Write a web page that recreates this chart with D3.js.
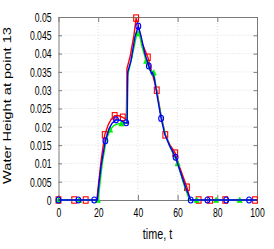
<!DOCTYPE html>
<html>
<head>
<meta charset="utf-8">
<script src="https://cdn.jsdelivr.net/npm/d3@7"></script>
<style>
  body { margin: 0; background: #fff; }
  text { font-family: "Liberation Sans", Arial, sans-serif; }
</style>
</head>
<body>
<svg id="chart" width="274" height="249"></svg>
<script>
// tick labels
const xTicks = [0, 20, 40, 60, 80, 100];
const xTickLabels = ["0", "20", "40", "60", "80", "100"];
const yTicks = [0, 0.005, 0.01, 0.015, 0.02, 0.025, 0.03, 0.035, 0.04, 0.045, 0.05];
const yTickLabels = ["0", "0.005", "0.01", "0.015", "0.02", "0.025", "0.03", "0.035", "0.04", "0.045", "0.05"];

// red series (squares)
const redTime = [0, 19.3, 20.5, 21.5, 23.3, 25, 26.5, 28.3, 30.5, 32.4, 34.2, 34.5, 36, 38, 39.1, 40, 42, 45, 47, 49.5, 51.5, 53.8, 56, 58.8, 61, 64.7, 66.3, 100];
const redHeight = [0, 0, 0.006, 0.011, 0.0178, 0.0205, 0.022, 0.023, 0.023, 0.0226, 0.022, 0.036, 0.039, 0.045, 0.0497, 0.048, 0.043, 0.039, 0.035, 0.030, 0.0235, 0.0178, 0.0152, 0.0128, 0.009, 0.0035, 0, 0];
const redMarkTime = [0, 7.9, 13.7, 23.3, 28.3, 32.4, 39.1, 45, 49.5, 53.8, 58.8, 64.7, 70.6, 76.4, 84, 99];
const redMarkHeight = [0, 0, 0, 0.0178, 0.023, 0.0226, 0.0497, 0.039, 0.030, 0.0178, 0.0128, 0.0035, 0, 0, 0, 0];

// green series (triangles)
const greenTime = [0, 20.0, 21, 22, 24, 26, 28, 30, 31.7, 34.3, 34.8, 37, 39.5, 40.5, 42, 44.2, 46, 48, 50, 52, 54, 57, 60, 63, 66, 100];
const greenHeight = [0, 0, 0.005, 0.0098, 0.0163, 0.0192, 0.0204, 0.0208, 0.0209, 0.021, 0.034, 0.039, 0.0455, 0.046, 0.042, 0.038, 0.0355, 0.0348, 0.028, 0.022, 0.0175, 0.0135, 0.010, 0.0045, 0, 0];
const greenMarkTime = [0, 10.5, 19.8, 26, 31.7, 39.5, 44.2, 48, 60, 69.6, 79.4, 91.3];
const greenMarkHeight = [0, 0, 0, 0.0192, 0.0209, 0.0455, 0.038, 0.0348, 0.010, 0, 0, 0];

// blue series (circles)
const blueTime = [0, 19.5, 20.5, 21.5, 23.6, 25.5, 27, 29, 31, 33, 34.6, 34.9, 36.5, 38.5, 40.2, 41.5, 43.5, 45.5, 46.8, 47.3, 48.2, 50, 51.7, 53.5, 56, 59, 61.5, 64, 66.6, 100];
const blueHeight = [0, 0, 0.005, 0.0095, 0.0162, 0.0195, 0.021, 0.0219, 0.0218, 0.0212, 0.021, 0.035, 0.038, 0.0445, 0.0475, 0.045, 0.040, 0.0366, 0.0345, 0.0348, 0.0335, 0.0275, 0.0223, 0.018, 0.0148, 0.0117, 0.0075, 0.0035, 0, 0];
const blueMarkTime = [0, 10, 18, 23.6, 29, 34.1, 40.2, 45.5, 51.7, 59, 66.6, 75, 84.5, 96];
const blueMarkHeight = [0, 0, 0, 0.0162, 0.0219, 0.0211, 0.0475, 0.0366, 0.0223, 0.0117, 0, 0, 0, 0];

const plotLeft = 58.5, plotRight = 257, plotTop = 17, plotBottom = 200;
const sx = 0.72; // the figure text is squeezed horizontally

const svg = d3.select("#chart");
const x = d3.scaleLinear().domain([0, 100]).range([plotLeft, plotRight]);
const y = d3.scaleLinear().domain([0, 0.05]).range([plotBottom, plotTop]);

// grid
svg.append("g").selectAll("line").data(xTicks.slice(1, -1)).enter().append("line")
  .attr("x1", d => x(d)).attr("x2", d => x(d)).attr("y1", plotTop).attr("y2", plotBottom)
  .attr("stroke", "#d4d4d4").attr("stroke-width", 0.8).attr("stroke-dasharray", "1,2");
svg.append("g").selectAll("line").data(yTicks.slice(1, -1)).enter().append("line")
  .attr("x1", plotLeft).attr("x2", plotRight).attr("y1", d => y(d)).attr("y2", d => y(d))
  .attr("stroke", "#d4d4d4").attr("stroke-width", 0.8).attr("stroke-dasharray", "1,2");

// axes, ticks pointing inwards on all four sides
const frame = "#7a7a7a";
const xAxis = svg.append("g").attr("transform", `translate(0,${plotBottom})`)
  .call(d3.axisBottom(x).tickValues(xTicks).tickFormat((d, i) => xTickLabels[i]).tickSizeInner(-5).tickSizeOuter(0).tickPadding(13));
const yAxis = svg.append("g").attr("transform", `translate(${plotLeft},0)`)
  .call(d3.axisLeft(y).tickValues(yTicks).tickFormat((d, i) => yTickLabels[i]).tickSizeInner(-3.5).tickSizeOuter(0).tickPadding(7));
svg.append("g").attr("transform", `translate(0,${plotTop})`)
  .call(d3.axisTop(x).tickValues(xTicks).tickFormat("").tickSizeInner(-5).tickSizeOuter(0));
svg.append("g").attr("transform", `translate(${plotRight},0)`)
  .call(d3.axisRight(y).tickValues(yTicks).tickFormat("").tickSizeInner(-3.5).tickSizeOuter(0));

svg.selectAll(".domain").attr("stroke", frame);
svg.selectAll(".tick line").attr("stroke", frame);
[xAxis, yAxis].forEach(a => a.selectAll("text")
  .attr("fill", "#000")
  .attr("font-size", "12px")
  .attr("font-family", "'Liberation Sans', Arial, sans-serif")
  .attr("transform", `scale(${sx},1)`));
yAxis.selectAll("text").attr("x", -7 / sx).attr("dy", "0.36em");
xAxis.selectAll("text").attr("dy", "0.36em");

// series
const series = [
  { time: redTime, height: redHeight, mt: redMarkTime, mh: redMarkHeight, color: "#ff0000", shape: "square" },
  { time: greenTime, height: greenHeight, mt: greenMarkTime, mh: greenMarkHeight, color: "#00ee00", shape: "triangle" },
  { time: blueTime, height: blueHeight, mt: blueMarkTime, mh: blueMarkHeight, color: "#0000ff", shape: "circle" }
];

const line = d3.line().x(d => x(d[0])).y(d => y(d[1]));

series.forEach(s => {
  svg.append("path")
    .datum(s.time.map((t, i) => [t, s.height[i]]))
    .attr("fill", "none")
    .attr("stroke", s.color)
    .attr("stroke-width", 1.4)
    .attr("d", line);

  const pts = s.mt.map((t, i) => [t, s.mh[i]]);
  const g = svg.append("g");
  if (s.shape === "square") {
    g.selectAll("rect").data(pts).enter().append("rect")
      .attr("x", d => x(d[0]) - 2.4).attr("y", d => y(d[1]) - 3.2)
      .attr("width", 4.8).attr("height", 6.4)
      .attr("fill", "none").attr("stroke", s.color).attr("stroke-width", 1.1);
  } else if (s.shape === "circle") {
    g.selectAll("ellipse").data(pts).enter().append("ellipse")
      .attr("cx", d => x(d[0])).attr("cy", d => y(d[1]))
      .attr("rx", 2.4).attr("ry", 3)
      .attr("fill", "none").attr("stroke", s.color).attr("stroke-width", 1.1);
  } else {
    g.selectAll("path").data(pts).enter().append("path")
      .attr("d", d => {
        const cx = x(d[0]), cy = y(d[1]);
        return `M${cx},${cy - 3} L${cx + 2.6},${cy + 2.5} L${cx - 2.6},${cy + 2.5} Z`;
      })
      .attr("fill", s.color).attr("stroke", s.color).attr("stroke-width", 0.6);
  }
});

// axis titles
svg.append("g").attr("transform", `translate(157.5,239) scale(${sx},1)`)
  .append("text")
  .attr("text-anchor", "middle")
  .attr("font-size", "15px")
  .text("time, t");

svg.append("g").attr("transform", `translate(10.5,105.5) scale(${sx},1) rotate(-90)`)
  .append("text")
  .attr("text-anchor", "middle")
  .attr("font-size", "14.6px")
  .text("Water Height at point 13");
</script>
</body>
</html>
